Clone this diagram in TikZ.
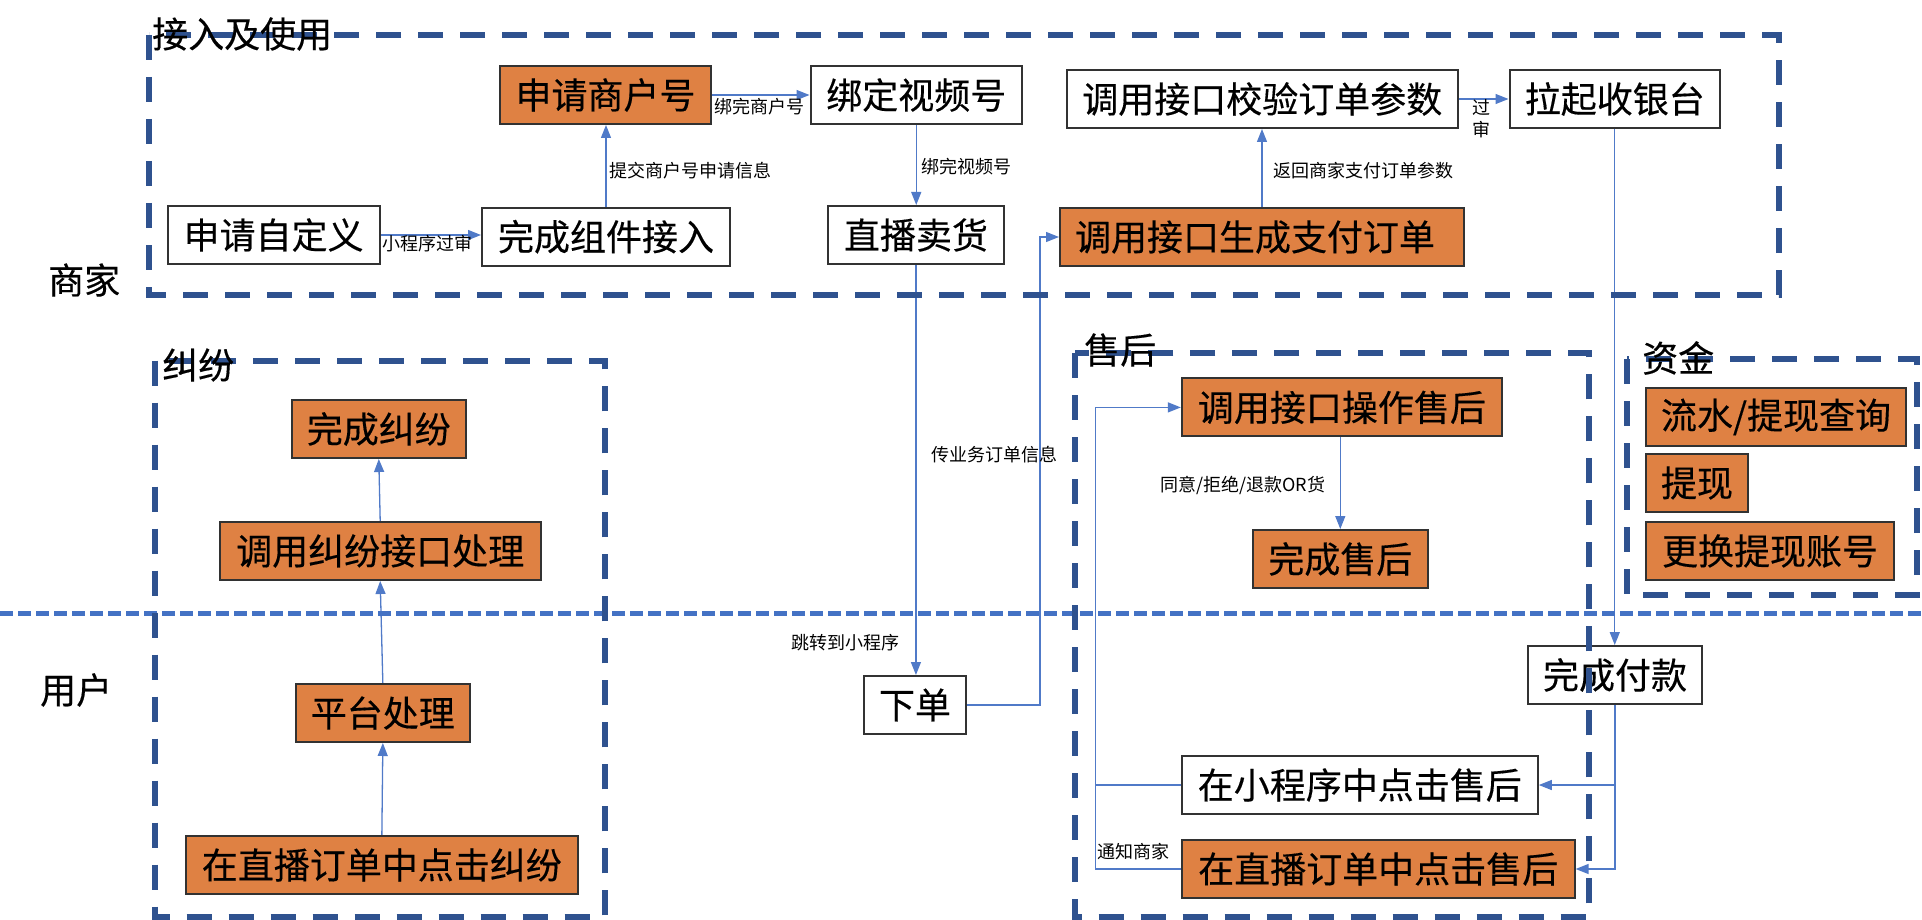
\documentclass[tikz,border=0pt]{standalone}
\usepackage{fontspec}
\setmainfont{Noto Sans CJK SC}
\newfontfamily\bigfam{Noto Sans CJK SC}[FakeBold=0.35]
\usetikzlibrary{arrows.meta,calc}
\definecolor{frameblue}{RGB}{47,82,143}
\definecolor{sepblue}{RGB}{68,114,196}
\definecolor{linkblue}{RGB}{80,122,200}
\definecolor{boxorange}{RGB}{223,129,67}
\definecolor{boxline}{RGB}{50,50,50}
\newcommand\bigf{\bigfam\fontsize{36pt}{40pt}\selectfont}
\newcommand\smallf{\fontsize{18pt}{22pt}\selectfont}
\pgfdeclarelayer{bglayer}
\pgfdeclarelayer{fglayer}
\pgfsetlayers{bglayer,main,fglayer}
\tikzset{
  box/.style={draw=boxline, line width=2pt, minimum height=58pt, inner sep=0pt, font=\bigf, anchor=north west},
  ob/.style={box, fill=boxorange},
  wb/.style={box, fill=white},
  link/.style={draw=linkblue, line width=1.3pt, -{Triangle[length=13pt,width=10pt]}},
  linkplain/.style={draw=linkblue, line width=1.3pt},
  frame/.style={draw=frameblue, line width=6pt, dash pattern=on 25pt off 17pt},
  sepline/.style={draw=sepblue, line width=4.5pt, dash pattern=on 13pt off 5pt},
  ttl/.style={font=\bigf, inner sep=0pt, anchor=west},
  lbl/.style={font=\smallf, inner sep=0pt}
}
\begin{document}
\begin{tikzpicture}[x=1pt, y=-1pt]
\begin{pgfonlayer}{bglayer}
\fill[white] (0,0) rectangle (1922,920);
\end{pgfonlayer}
\useasboundingbox (0,0) rectangle (1922,920);

% boxes
\node[ob, minimum width=211pt] (sqsh) at (499,65) {申请商户号};
\node[wb, minimum width=211.5pt] (bdsp) at (809.5,65) {绑定视频号};
\node[wb, minimum width=212pt] (sqzdy) at (166.6,205) {申请自定义};
\node[wb, minimum width=248pt] (wczj) at (481,206.7) {完成组件接入};
\node[wb, minimum width=176.5pt] (zbmh) at (826.7,205) {直播卖货};
\node[wb, minimum width=391.5pt] (dyjy) at (1065.5,69) {调用接口校验订单参数};
\node[wb, minimum width=210.5pt] (lqsy) at (1508.5,69) {拉起收银台};
\node[ob, text width=374pt, inner xsep=15pt, align=left] (dysc) at (1059,207) {调用接口生成支付订单};
\node[ob, minimum width=174.4pt] (wcjf) at (290.6,399) {完成纠纷};
\node[ob, minimum width=320.8pt] (dyjf) at (218.8,521) {调用纠纷接口处理};
\node[ob, minimum width=174.3pt] (ptcl) at (294.7,683) {平台处理};
\node[ob, minimum width=391.7pt] (zbjf) at (185,835) {在直播订单中点击纠纷};
\node[wb, minimum width=102pt] (xd) at (863,675) {下单};
\node[ob, minimum width=320.2pt] (dysh) at (1180.8,377.4) {调用接口操作售后};
\node[ob, minimum width=174.6pt] (wcsh) at (1252,529) {完成售后};
\node[wb, minimum width=356pt] (xcxsh) at (1180.8,755) {在小程序中点击售后};
\node[ob, minimum width=392.8pt] (zbsh) at (1180.8,839) {在直播订单中点击售后};
\node[wb, minimum width=174pt] (wcfk) at (1527,645) {完成付款};
\node[ob, minimum width=260pt] (lscx) at (1645,387) {流水/提现查询};
\node[ob, minimum width=102pt] (tx) at (1645,453) {提现};
\node[ob, minimum width=248pt] (ghzh) at (1645,521) {更换提现账号};

% connectors and separator, beneath the boxes
\begin{pgfonlayer}{bglayer}
\draw[link] (sqzdy.east) -- (sqzdy.east -| wczj.west);
\draw[link] (wczj.north) -- (wczj.north |- sqsh.south);
\draw[link] (sqsh.east) -- (sqsh.east -| bdsp.west);
\draw[link] (bdsp.south) -- (bdsp.south |- zbmh.north);
\draw[link] (zbmh.south) -- (zbmh.south |- xd.north);
\draw[link] (xd.east) -- ++(73,0) |- (dysc.west);
\draw[link] (dysc.north) -- (dysc.north |- dyjy.south);
\draw[link] (dyjy.east) -- (dyjy.east -| lqsy.west);
\draw[link] (lqsy.south) -- (lqsy.south |- wcfk.north);
\draw[link] (wcfk.south) |- (zbsh.east);
\draw[link] (wcfk.south |- xcxsh.east) -- (xcxsh.east);
\coordinate (nt) at ($(zbsh.west)+(-85,0)$);
\draw[link] (zbsh.west) -- (nt) |- (dysh.west);
\draw[linkplain] (xcxsh.west) -- (xcxsh.west -| nt);
\draw[link] (wcsh.north |- dysh.south) -- (wcsh.north);
\draw[link] (zbjf.north) -- (ptcl.south);
\draw[link] (ptcl.north) -- (dyjf.south);
\draw[link] (dyjf.north) -- (wcjf.south);
\coordinate (sepL) at (0,613.5);
\coordinate (sepR) at (1922,613.5);
\draw[sepline] (sepL) -- (sepR);
\end{pgfonlayer}

% frames, titles and labels on top
\begin{pgfonlayer}{fglayer}
\draw[frame] (149,35) rectangle (1779,295);
\draw[frame] (155,360.6) rectangle (605,917);
\draw[frame] (1074.7,353) rectangle (1589,917);
\draw[frame] (1627,359) rectangle (1917,595);

\node[ttl] (t1) at (152,34) {接入及使用};
\node[ttl] (t2) at (48,280) {商家};
\node[ttl] (t3) at (162,365) {纠纷};
\node[ttl] (t4) at (40,690) {用户};
\node[ttl] (t5) at (1084,350) {售后};
\node[ttl] (t6) at (1642,358) {资金};

\node[lbl] (l1) at (427,244) {小程序过审};
\node[lbl] (l2) at (759,107) {绑完商户号};
\node[lbl, anchor=west] (l3) at (609,171) {提交商户号申请信息};
\node[lbl, anchor=west] (l4) at (921,167) {绑完视频号};
\node[lbl, anchor=west] (l5) at (1273,171) {返回商家支付订单参数};
\node[lbl, align=center] (l6) at (1481.5,119) {过\\审};
\node[lbl, anchor=east] (l7) at (900,643) {跳转到小程序};
\node[lbl, anchor=west] (l8) at (931,455) {传业务订单信息};
\node[lbl, anchor=west] (l9) at (1160,485) {同意/拒绝/退款OR货};
\node[lbl, anchor=west] (l10) at (1097,852) {通知商家};
\end{pgfonlayer}
\end{tikzpicture}
\end{document}
